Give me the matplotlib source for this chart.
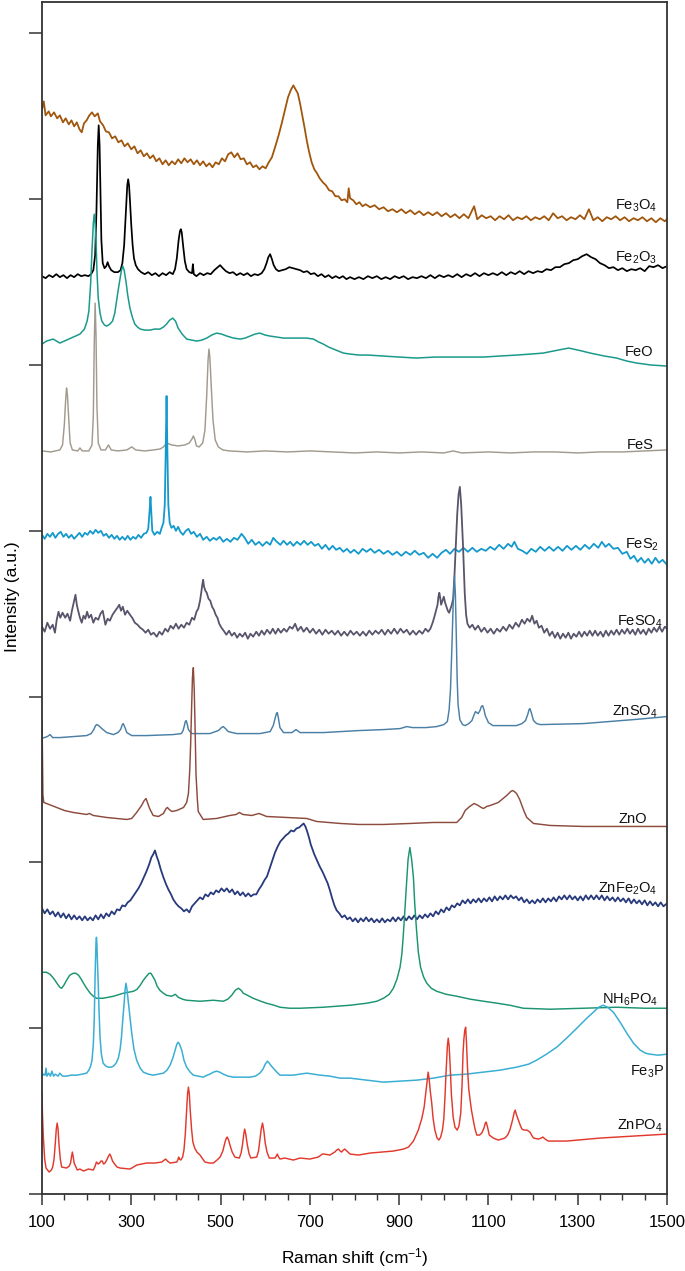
import matplotlib
matplotlib.use("Agg")
import matplotlib.pyplot as plt
from matplotlib.ticker import MultipleLocator, FixedLocator

plt.rcParams["font.family"] = ["Liberation Sans", "DejaVu Sans"]
plt.rcParams["mathtext.fontset"] = "custom"
plt.rcParams["mathtext.rm"] = "Liberation Sans"
plt.rcParams["mathtext.default"] = "regular"

# Raman shift (cm-1), intensity (a.u., stacked with offsets)

FE3O4 = [(100,1086),(104,1094),(108,1080),(115,1084),(120,1079),(127,1083),(134,1077),(140,1080),(147,1073),(153,1077),
         (160,1071),(166,1075),(172,1069),(178,1073),(184,1066),(189,1063),(194,1072),(200,1075),(206,1080),(212,1083),
         (218,1079),(225,1082),(230,1074),(237,1070),(243,1064),(250,1063),(257,1057),(264,1059),(271,1053),(278,1055),
         (285,1049),(292,1052),(300,1046),(307,1049),(314,1042),(321,1045),(328,1039),(335,1042),(342,1037),(349,1040),
         (356,1034),(363,1037),(370,1031),(377,1035),(384,1030),(391,1034),(398,1031),(405,1036),(412,1032),(419,1037),
         (426,1033),(433,1036),(440,1031),(447,1035),(454,1030),(461,1034),(468,1029),(475,1032),(482,1028),(489,1033),
         (496,1031),(503,1037),(510,1034),(517,1041),(524,1043),(531,1038),(538,1042),(545,1036),(552,1037),(559,1031),
         (566,1033),(573,1028),(580,1030),(587,1026),(594,1029),(601,1027),(608,1033),(615,1038),(622,1048),(630,1060),
         (637,1072),(645,1087),(651,1098),(657,1105),(663,1110),(668,1106),(673,1102),(678,1092),(683,1080),(688,1068),
         (693,1055),(698,1044),(704,1033),(710,1026),(716,1022),(722,1017),(729,1013),(736,1010),(743,1005),(750,1004),
         (757,999),(764,999),(771,995),(778,996),(784,993),(787,1007),(790,997),(797,995),(804,991),(811,993),(818,989),
         (825,991),(835,988),(845,990),(855,986),(865,988),(875,984),(885,986),(895,983),(905,986),(915,982),(925,985),
         (935,981),(945,984),(955,980),(965,983),(975,980),(985,983),(995,979),(1005,982),(1015,978),(1025,981),(1035,977),
         (1045,981),(1055,977),(1068,989),(1075,976),(1085,980),(1095,977),(1105,979),(1115,975),(1125,979),(1135,976),
         (1145,980),(1155,975),(1165,978),(1175,976),(1185,979),(1195,975),(1205,978),(1215,976),(1225,979),(1235,975),
         (1245,982),(1255,977),(1265,979),(1275,975),(1285,978),(1295,976),(1305,980),(1315,976),(1325,986),(1335,975),
         (1345,978),(1355,974),(1365,978),(1375,976),(1385,979),(1395,975),(1405,978),(1415,974),(1425,977),(1435,975),
         (1445,978),(1455,974),(1465,977),(1475,973),(1485,977),(1495,974),(1500,976)]

FE2O3 = [(100,919),(108,917),(116,920),(124,918),(132,921),(140,918),(148,920),(156,917),(164,920),(172,918),(180,921),
         (188,919),(196,920),(204,919),(210,921),(215,925),(219,940),(222,985),(225,1050),(227,1070),(229,1050),(231,1000),
         (233,955),(236,932),(240,927),(244,929),(247,933),(250,929),(255,925),(262,923),(270,923),(276,925),(280,932),
         (284,950),(288,985),(291,1010),(293,1016),(295,1010),(297,995),(300,970),(303,950),(306,937),(310,930),(315,926),
         (322,923),(330,921),(338,923),(346,920),(354,922),(362,919),(370,922),(378,920),(386,923),(393,921),(398,926),
         (402,937),(406,955),(409,964),(411,966),(413,963),(416,950),(420,934),(424,926),(430,923),(436,922),(438,931),
         (440,921),(446,919),(454,922),(462,920),(470,922),(478,921),(486,925),(494,928),(499,930),(505,927),(512,924),
         (520,922),(528,923),(536,920),(544,922),(552,920),(560,922),(568,919),(576,921),(584,920),(592,922),(598,926),
         (603,932),(607,938),(611,941),(615,936),(619,930),(624,926),(630,924),(638,925),(646,926),(654,928),(662,927),
         (670,926),(678,925),(686,923),(694,924),(702,921),(710,922),(718,919),(726,921),(734,918),(742,920),(750,917),
         (758,919),(766,917),(774,919),(782,916),(790,918),(800,916),(810,918),(820,916),(830,919),(840,917),(850,919),
         (860,916),(870,918),(880,916),(890,919),(900,917),(910,919),(920,916),(930,918),(940,917),(950,919),(960,917),
         (970,920),(980,917),(990,920),(1000,918),(1010,920),(1020,918),(1030,921),(1040,918),(1050,921),(1060,919),
         (1070,922),(1080,919),(1090,922),(1100,920),(1110,922),(1120,920),(1130,923),(1140,920),(1150,923),(1160,921),
         (1170,924),(1180,921),(1190,924),(1200,922),(1210,924),(1220,923),(1230,926),(1240,925),(1250,928),(1260,928),
         (1270,931),(1280,932),(1290,935),(1300,936),(1310,939),(1320,941),(1330,938),(1340,936),(1350,932),(1360,930),
         (1370,927),(1380,928),(1390,925),(1400,927),(1410,924),(1420,926),(1430,925),(1440,927),(1450,924),(1460,929),
         (1470,928),(1480,930),(1490,927),(1500,929)]

FEO = [(100,851),(110,854),(125,856),(140,852),(155,855),(170,858),(185,861),(195,866),(201,874),(205,884),(209,912),
       (212,945),(215,972),(217,981),(219,972),(221,955),(223,925),(226,897),(230,882),(234,874),(240,870),(245,869),
       (252,871),(258,874),(263,882),(267,894),(271,906),(275,917),(278,925),(281,929),(284,925),(288,914),(292,900),
       (297,887),(303,877),(308,871),(314,868),(320,866),(330,865),(342,865),(352,866),(364,866),(372,868),(379,871),
       (386,875),(393,877),(399,874),(405,867),(414,861),(424,856),(435,855),(447,854),(458,855),(469,857),(480,860),
       (491,862),(502,861),(514,859),(529,857),(544,856),(555,857),(566,859),(577,861),(588,862),(600,860),(611,859),
       (626,858),(641,857),(660,857),(678,857),(693,857),(708,856),(720,853),(730,851),(742,848),(753,846),(764,844),
       (775,842),(790,841),(810,840),(830,840),(865,839),(900,838),(939,837),(980,838),(1014,838),(1050,838),(1089,838),
       (1125,839),(1163,840),(1195,841),(1223,842),(1245,844),(1268,846),(1280,847),(1290,846),(1310,844),(1328,842),
       (1360,839),(1387,837),(1410,834),(1432,832),(1465,830),(1500,829)]

FES = [(100,744),(120,743),(140,745),(146,750),(150,770),(153,795),(155,807),(157,800),(160,775),(163,752),(168,745),
       (180,744),(185,747),(190,744),(205,744),(212,750),(215,780),(217,850),(219,892),(221,860),(223,790),(226,752),
       (232,745),(242,745),(249,750),(255,745),(270,744),(290,745),(301,748),(310,745),(330,744),(350,745),(365,746),
       (372,748),(379,752),(390,750),(405,749),(420,750),(430,752),(436,756),(439,759),(442,756),(446,749),(452,748),
       (460,752),(465,765),(469,800),(472,835),(474,846),(476,838),(479,810),(483,775),(488,755),(495,748),(505,745),
       (520,744),(560,743),(600,744),(650,743),(700,744),(750,743),(800,742),(850,743),(900,742),(950,743),(1000,742),
       (1021,744),(1040,742),(1100,743),(1150,742),(1200,743),(1250,743),(1300,742),(1350,743),(1400,743),(1450,744),
       (1500,745)]

FES2 = [(100,660),(106,656),(112,661),(118,658),(124,662),(130,657),(136,661),(142,663),(148,658),(154,661),(160,657),
        (166,660),(172,656),(178,659),(184,662),(190,658),(196,662),(202,660),(208,664),(214,661),(220,665),(226,662),
        (232,664),(238,659),(244,661),(250,657),(256,660),(262,656),(268,659),(274,655),(280,658),(286,655),(292,659),
        (298,655),(304,658),(310,656),(316,660),(322,657),(328,661),(334,662),(338,666),(341,684),(343,698),(345,680),
        (347,664),(352,660),(358,663),(364,661),(368,667),(372,672),(375,690),(377,740),(379,799),(381,740),(383,690),
        (386,672),(390,667),(395,669),(400,664),(405,668),(410,663),(416,660),(422,664),(428,666),(434,661),(440,663),
        (447,658),(454,661),(461,655),(469,658),(476,654),(484,657),(491,655),(498,658),(506,653),(514,656),(522,653),
        (530,657),(538,655),(547,661),(554,657),(562,651),(570,655),(578,650),(586,653),(594,649),(603,653),(611,650),
        (618,657),(626,653),(634,650),(641,654),(649,650),(656,653),(663,649),(671,653),(679,650),(687,654),(695,650),
        (703,653),(711,649),(719,651),(727,646),(735,650),(743,645),(751,649),(759,645),(767,647),(775,643),(783,646),
        (791,642),(799,645),(809,641),(818,646),(827,643),(836,646),(845,642),(855,645),(865,641),(875,644),(885,640),
        (895,643),(905,639),(915,643),(925,640),(935,644),(945,640),(955,642),(965,637),(975,641),(985,637),(995,642),
        (1005,645),(1014,641),(1024,646),(1034,643),(1044,647),(1054,643),(1064,647),(1074,643),(1084,646),(1094,644),
        (1104,648),(1114,645),(1124,650),(1134,646),(1144,651),(1152,648),(1158,653),(1166,646),(1176,644),(1186,641),
        (1196,646),(1206,643),(1216,648),(1226,644),(1236,648),(1246,644),(1256,648),(1266,644),(1276,649),(1286,645),
        (1296,649),(1306,645),(1316,650),(1326,646),(1336,651),(1346,647),(1354,653),(1362,648),(1370,651),(1380,646),
        (1390,647),(1400,641),(1410,643),(1418,636),(1426,639),(1434,633),(1442,637),(1450,632),(1458,636),(1466,631),
        (1474,637),(1482,632),(1490,635),(1500,630)]

FESO4 = [(100,568),(106,563),(112,572),(118,566),(124,570),(129,562),(133,575),(137,583),(141,577),(146,582),(152,577),
         (157,581),(163,574),(167,584),(170,590),(173,596),(175,600),(178,590),(181,584),(185,577),(189,572),(193,579),
         (197,576),(201,583),(205,577),(210,580),(215,572),(220,577),(226,575),(231,581),(236,584),(239,577),(242,570),
         (247,576),(252,574),(258,580),(264,584),(269,587),(273,590),(277,584),(281,588),(286,580),(291,584),(297,580),
         (302,577),(308,572),(314,570),(320,567),(326,565),(332,562),(338,565),(344,560),(350,562),(357,558),(363,563),
         (369,560),(376,566),(382,563),(388,569),(394,566),(400,571),(406,566),(412,570),(418,567),(424,572),(430,570),
         (436,577),(441,575),(446,583),(450,586),(454,594),(457,603),(459,610),(461,615),(463,608),(466,604),(469,602),
         (473,596),(477,594),(481,588),(485,585),(489,580),(493,577),(497,571),(502,567),(507,564),(513,560),(519,564),
         (525,559),(531,562),(537,557),(543,561),(549,558),(555,562),(561,556),(567,561),(573,558),(580,563),(586,559),
         (592,564),(598,560),(604,565),(611,561),(617,566),(623,561),(629,566),(635,562),(642,566),(648,563),(655,568),
         (661,566),(667,571),(673,564),(680,568),(686,563),(693,567),(700,562),(707,566),(714,561),(721,565),(728,560),
         (735,565),(742,561),(749,564),(756,560),(763,564),(770,559),(777,563),(784,559),(791,564),(798,560),(805,563),
         (812,559),(819,563),(826,559),(833,564),(840,560),(847,564),(854,561),(861,565),(868,560),(875,565),(882,561),
         (889,566),(896,561),(903,566),(910,562),(917,565),(924,560),(931,564),(938,560),(945,564),(952,561),(959,566),
         (965,563),(970,566),(975,572),(979,578),(983,585),(986,590),(988,598),(990,602),(992,597),(994,590),(997,594),
         (1000,598),(1003,592),(1006,588),(1009,584),(1012,582),(1015,586),(1018,590),(1021,596),(1024,620),(1027,650),
         (1030,680),(1033,700),(1036,708),(1039,690),(1041,670),(1043,650),(1045,625),(1047,601),(1050,580),(1053,571),
         (1058,567),(1064,570),(1070,565),(1077,569),(1084,563),(1091,567),(1098,562),(1105,566),(1112,561),(1119,566),
         (1126,563),(1133,568),(1140,564),(1147,570),(1154,566),(1161,572),(1168,568),(1175,575),(1181,571),(1187,576),
         (1193,573),(1198,579),(1203,571),(1208,574),(1213,567),(1219,569),(1225,562),(1231,566),(1237,559),(1243,563),
         (1249,557),(1255,562),(1261,556),(1267,561),(1273,557),(1279,562),(1285,556),(1291,561),(1297,558),(1303,563),
         (1309,558),(1315,563),(1321,559),(1327,564),(1333,559),(1339,564),(1345,559),(1351,563),(1357,558),(1363,564),
         (1369,559),(1375,564),(1381,560),(1387,565),(1393,560),(1399,565),(1405,561),(1411,566),(1417,561),(1423,565),
         (1429,560),(1435,566),(1441,561),(1447,565),(1453,560),(1459,566),(1465,562),(1471,567),(1477,563),(1483,568),
         (1489,563),(1495,568),(1500,566)]

ZNSO4 = [(100,456),(105,457),(112,458),(118,460),(124,457),(140,457),(170,458),(200,459),(210,461),(216,465),(220,469),
         (223,470),(227,469),(234,466),(245,462),(260,460),(270,462),(276,465),(280,470),(282,471),(285,468),(290,462),
         (301,459),(334,459),(394,460),(412,461),(416,464),(419,469),(421,473),(423,474),(425,471),(428,465),(435,461),
         (476,461),(495,464),(502,467),(506,468),(511,466),(517,463),(536,461),(588,461),(611,463),(618,469),(622,476),
         (625,481),(627,482),(629,478),(633,467),(641,462),(660,462),(669,465),(678,462),(730,462),(809,464),(865,465),
         (902,466),(917,468),(930,467),(960,467),(984,468),(1000,470),(1008,473),(1012,485),(1015,505),(1018,545),
         (1021,590),(1024,619),(1026,600),(1028,560),(1030,515),(1032,490),(1036,475),(1042,470),(1048,469),(1056,471),
         (1063,474),(1068,480),(1071,483),(1074,482),(1077,481),(1081,484),(1084,488),(1087,489),(1090,485),(1093,479),
         (1100,472),(1110,469),(1119,469),(1163,469),(1175,471),(1183,474),(1188,480),(1191,485),(1193,486),(1196,482),
         (1201,474),(1208,471),(1216,470),(1313,471),(1425,475),(1500,478)]

ZNO = [(100,474),(101,440),(102,400),(104,392),(110,391),(133,387),(150,384),(170,382),(200,380),(206,381),(215,379),
       (245,377),(290,375),(301,376),(312,382),(323,389),(329,394),(333,396),(337,391),(341,386),(349,379),(361,378),
       (372,381),(378,386),(381,387),(385,385),(391,383),(402,384),(417,387),(424,392),(428,401),(431,425),(433,451),
       (435,485),(437,517),(439,527),(441,505),(443,465),(445,420),(448,395),(450,383),(461,375),(491,376),(521,379),
       (535,380),(542,382),(550,380),(570,379),(586,381),(592,380),(603,378),(648,377),(693,376),(715,373),(768,371),
       (809,370),(865,370),(924,371),(977,372),(1029,372),(1040,377),(1048,384),(1058,388),(1068,391),(1077,389),
       (1084,387),(1089,386),(1096,388),(1104,389),(1122,392),(1141,399),(1150,403),(1154,404),(1158,403),(1163,401),
       (1170,395),(1175,389),(1180,383),(1186,377),(1201,371),(1238,369),(1313,368),(1387,368),(1500,368)]

ZNFE2O4 = [(100,286),(106,281),(112,285),(118,280),(124,283),(130,278),(136,282),(142,277),(148,281),(154,276),(160,280),
           (166,275),(172,279),(178,275),(184,278),(190,274),(196,278),(202,274),(208,277),(214,274),(220,279),(226,275),
           (232,280),(238,276),(244,281),(250,278),(256,283),(262,280),(268,285),(274,284),(280,289),(286,288),(292,292),
           (298,294),(304,298),(310,302),(316,306),(322,311),(328,317),(334,323),(340,330),(345,337),(349,340),(353,344),
           (357,338),(361,333),(366,325),(372,317),(378,310),(383,305),(389,300),(394,295),(400,291),(406,288),(412,286),
           (418,283),(424,285),(430,282),(436,288),(442,291),(448,294),(454,297),(460,295),(466,300),(472,298),(478,302),
           (484,300),(490,304),(496,302),(502,306),(508,303),(514,306),(520,302),(526,305),(532,300),(538,303),(544,299),
           (550,302),(556,298),(562,301),(568,298),(574,300),(580,300),(586,305),(592,309),(598,314),(604,318),(610,326),
           (616,334),(622,342),(628,348),(634,353),(640,356),(646,359),(652,361),(658,364),(664,363),(670,366),(676,367),
           (681,369),(686,371),(690,368),(694,363),(698,357),(702,350),(706,345),(710,340),(716,334),(722,328),(728,323),
           (734,317),(740,311),(745,304),(750,296),(755,289),(760,284),(766,281),(772,277),(778,279),(784,275),(790,277),
           (796,273),(802,276),(808,272),(814,276),(820,273),(826,277),(832,273),(838,276),(844,272),(850,275),(856,272),
           (862,276),(868,272),(874,275),(880,273),(886,277),(892,273),(898,277),(904,274),(910,278),(916,274),(922,278),
           (928,275),(934,279),(940,275),(946,279),(952,276),(958,280),(964,277),(970,281),(976,278),(982,283),(988,280),
           (994,285),(1000,282),(1006,287),(1012,284),(1018,289),(1024,287),(1030,291),(1036,289),(1042,294),(1048,291),
           (1054,295),(1060,291),(1066,295),(1072,292),(1078,296),(1084,292),(1090,296),(1096,293),(1102,297),(1108,293),
           (1114,298),(1120,294),(1126,298),(1132,295),(1138,299),(1144,295),(1150,299),(1156,296),(1162,298),(1168,294),
           (1174,297),(1180,292),(1186,295),(1192,291),(1198,294),(1204,291),(1210,295),(1216,292),(1222,296),(1228,292),
           (1234,296),(1240,293),(1246,297),(1252,293),(1258,298),(1264,295),(1270,299),(1276,295),(1282,299),(1288,295),
           (1294,298),(1300,294),(1306,298),(1312,294),(1318,299),(1324,295),(1330,299),(1336,295),(1342,299),(1348,295),
           (1354,299),(1360,294),(1366,298),(1372,294),(1378,297),(1384,293),(1390,297),(1396,293),(1402,296),(1408,292),
           (1414,296),(1420,291),(1426,295),(1432,291),(1438,294),(1444,290),(1450,294),(1456,289),(1462,293),(1468,289),
           (1474,292),(1480,288),(1486,292),(1492,288),(1500,291)]

NH6PO4 = [(100,222),(110,222),(118,220),(124,217),(129,214),(135,210),(140,207),(144,206),(149,209),(155,214),(162,219),
          (170,221),(176,221),(182,219),(188,215),(193,211),(200,206),(208,201),(215,198),(222,196),(237,196),(260,198),
          (282,201),(305,203),(313,205),(320,209),(327,214),(334,218),(340,221),(344,221),(348,218),(353,214),(358,208),
          (364,204),(372,201),(379,199),(390,198),(395,199),(398,200),(401,199),(405,197),(415,195),(424,194),(454,193),
          (484,194),(506,193),(516,195),(525,199),(533,204),(540,206),(546,204),(551,201),(560,199),(573,196),(590,193),
          (603,191),(620,189),(633,187),(655,186),(678,186),(730,187),(790,189),(827,191),(850,193),(865,196),(878,200),
          (887,206),(895,215),(902,227),(906,240),(909,257),(913,285),(917,314),(920,335),(924,347),(928,335),(932,317),
          (935,290),(939,264),(943,242),(948,227),(955,217),(962,211),(972,206),(984,203),(1005,200),(1029,198),(1060,195),
          (1089,193),(1120,191),(1148,189),(1178,186),(1238,185),(1313,186),(1387,187),(1450,186),(1500,186)]

FE3P = [(100,118),(104,120),(107,119),(109,126),(111,118),(115,121),(119,118),(122,123),(126,118),(130,120),(136,118),
        (140,121),(146,118),(155,118),(165,119),(178,119),(190,120),(200,121),(205,124),(209,128),(212,134),(215,150),
        (217,174),(219,220),(221,252),(222,257),(223,250),(224,235),(226,210),(228,180),(230,157),(233,140),(237,131),
        (243,128),(249,127),(255,127),(260,128),(266,131),(271,136),(275,145),(278,157),(281,175),(284,191),(286,204),
        (288,211),(290,206),(293,194),(297,178),(301,161),(306,145),(312,134),(320,126),(327,122),(338,120),(349,119),
        (360,120),(372,121),(380,124),(387,129),(393,136),(398,144),(402,150),(405,152),(408,150),(413,144),(418,134),
        (424,127),(432,122),(439,119),(450,118),(461,117),(470,119),(476,120),(484,122),(491,123),(498,122),(506,120),
        (517,118),(529,117),(550,117),(566,117),(578,118),(588,121),(595,125),(600,130),(605,133),(609,131),(614,128),
        (618,126),(626,122),(633,119),(648,119),(663,119),(678,120),(693,121),(708,120),(723,119),(745,118),(768,116),
        (790,116),(827,114),(865,112),(902,113),(939,114),(977,116),(1014,119),(1050,120),(1089,122),(1126,124),
        (1163,127),(1190,130),(1208,134),(1230,140),(1253,147),(1275,156),(1298,166),(1318,175),(1335,182),(1347,187),
        (1357,189),(1367,187),(1380,182),(1395,172),(1410,161),(1425,151),(1440,144),(1452,141),(1462,140),(1480,139),
        (1500,140)]

ZNPO4 = [(100,101),(101,80),(103,57),(106,35),(109,26),(116,22),(121,24),(124,27),(127,35),(130,52),(132,65),(134,71),
         (136,65),(138,50),(141,35),(144,27),(155,26),(161,28),(164,31),(166,37),(168,42),(170,37),(172,31),(179,24),
         (185,25),(193,23),(204,25),(215,24),(219,28),(222,32),(226,30),(229,31),(232,33),(235,33),(238,30),(241,31),
         (245,34),(249,38),(252,40),(255,37),(258,33),(261,31),(268,27),(275,26),(297,25),(305,27),(312,29),(334,31),
         (353,31),(368,32),(374,34),(377,35),(381,33),(387,31),(402,32),(405,35),(406,37),(408,35),(411,34),(415,37),
         (418,44),(421,60),(424,84),(426,100),(428,107),(430,100),(432,84),(435,65),(438,52),(442,46),(447,42),(454,39),
         (460,35),(465,32),(475,31),(484,31),(492,34),(499,37),(505,43),(510,52),(513,56),(515,57),(518,54),(521,49),
         (526,42),(532,37),(542,36),(546,41),(549,49),(552,60),(554,65),(556,61),(558,55),(560,49),(564,40),(568,36),
         (581,37),(585,43),(588,54),(591,65),(594,71),(597,63),(600,51),(604,42),(609,36),(622,36),(625,38),(627,40),
         (630,37),(633,35),(644,36),(663,34),(678,36),(700,35),(719,37),(728,40),(732,40),(745,39),(752,41),(756,42),
         (760,44),(764,45),(768,43),(771,42),(775,44),(778,45),(783,43),(790,40),(809,39),(835,41),(887,43),(910,45),
         (921,47),(932,53),(943,64),(951,76),(956,87),(960,103),(963,116),(965,122),(967,116),(970,102),(973,91),
         (976,76),(980,64),(985,56),(989,54),(993,57),(997,64),(1000,75),(1003,100),(1005,121),(1008,148),(1010,156),
         (1012,148),(1014,131),(1017,100),(1021,77),(1025,67),(1030,64),(1034,68),(1038,81),(1041,110),(1043,140),
         (1045,155),(1047,164),(1049,167),(1051,150),(1053,127),(1056,105),(1059,94),(1062,84),(1066,74),(1070,65),
         (1074,59),(1080,59),(1085,61),(1090,66),(1093,71),(1095,72),(1098,67),(1102,59),(1111,56),(1122,54),(1137,56),
         (1143,59),(1148,64),(1154,74),(1158,82),(1160,84),(1163,79),(1167,74),(1172,68),(1175,65),(1180,64),(1186,64),
         (1193,62),(1198,58),(1201,56),(1212,55),(1218,56),(1222,57),(1227,55),(1234,53),(1275,53),(1350,56),(1425,58),
         (1500,60)]

# label text, data, colour, line width, label anchor (left x in cm-1, baseline in a.u.)
SPECTRA = [
    ("Fe$_3$O$_4$",      FE3O4,   "#A0560C", 1.3,  1384, 986),
    ("Fe$_2$O$_3$",      FE2O3,   "#000000", 1.25, 1384, 934),
    ("FeO",              FEO,     "#1A9A8B", 1.1,  1406, 839),
    ("FeS",              FES,     "#A29A8E", 1.05, 1410, 746),
    ("FeS$_2$",          FES2,    "#1499CC", 1.3,  1406, 646),
    ("FeSO$_4$",         FESO4,   "#59546B", 1.3,  1388, 569),
    ("ZnSO$_4$",         ZNSO4,   "#4A7FA6", 1.05, 1377, 479),
    ("ZnO",              ZNO,     "#8D4B3D", 1.05, 1392, 371),
    ("ZnFe$_2$O$_4$",    ZNFE2O4, "#283A7B", 1.3,  1345, 302),
    ("NH$_6$PO$_4$",     NH6PO4,  "#1B9471", 1.05, 1354, 191),
    ("Fe$_3$P",          FE3P,    "#3BAED4", 1.1,  1417, 119),
    ("ZnPO$_4$",         ZNPO4,   "#E2392D", 1.05, 1388, 64),
]

X_MAJOR = [100, 300, 500, 700, 900, 1100, 1300, 1500]
Y_TICKS = [0, 166, 332, 498, 664, 830, 996, 1162]

W, H = 685, 1271
fig = plt.figure(figsize=(W / 100, H / 100), dpi=100)
ax = fig.add_axes([42 / W, 1 - 1194 / H, 625 / W, 1192.5 / H])

for label, pts, color, lw, lx, ly in SPECTRA:
    xs = [p[0] for p in pts]
    ys = [p[1] for p in pts]
    ax.plot(xs, ys, color=color, lw=lw, solid_joinstyle="round")
    ax.text(lx, ly, label, fontsize=10.5, ha="left", va="baseline", color="#111111")

ax.set_xlim(100, 1500)
ax.set_ylim(0, 1194)

ax.xaxis.set_major_locator(FixedLocator(X_MAJOR))
ax.xaxis.set_minor_locator(MultipleLocator(50))
ax.yaxis.set_major_locator(FixedLocator(Y_TICKS))
ax.set_yticklabels([])

spine_c = "#333333"
for s in ax.spines.values():
    s.set_linewidth(1.3)
    s.set_color(spine_c)

ax.tick_params(axis="x", which="major", direction="out", length=8, width=1.1,
               color=spine_c, labelsize=12, pad=7)
ax.tick_params(axis="x", which="minor", direction="out", length=4.5, width=1.0,
               color=spine_c)
ax.tick_params(axis="y", which="major", direction="out", length=9.5, width=1.1,
               color=spine_c, labelleft=False)

fig.text(354.5 / W, 1 - 1258 / H, "Raman shift (cm$^{-1}$)", ha="center", va="center",
         fontsize=12.5)
fig.text(12 / W, 1 - 597 / H, "Intensity (a.u.)", ha="center", va="center",
         rotation=90, fontsize=12.5)

fig.savefig("out.png", dpi=100)
